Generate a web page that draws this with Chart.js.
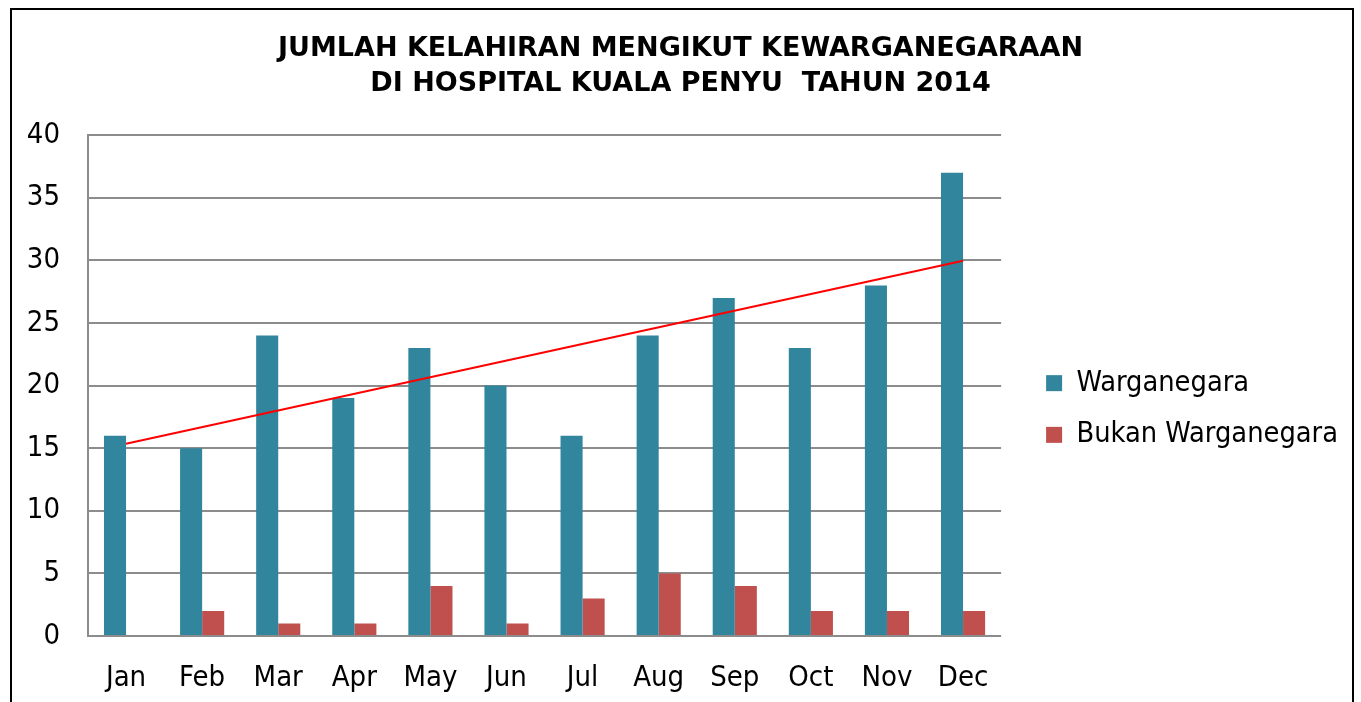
<!DOCTYPE html>
<html>
<head>
<meta charset="utf-8">
<script src="https://cdn.jsdelivr.net/npm/chart.js@4"></script>
<style>
  html, body { margin: 0; padding: 0; background: #fff; }
  #wrap { position: absolute; left: 0; top: 0; width: 1361px; height: 702px; }
</style>
</head>
<body>
<div id="wrap"><canvas id="chart" width="1361" height="702"></canvas></div>
<script>
const months = ["Jan", "Feb", "Mar", "Apr", "May", "Jun", "Jul", "Aug", "Sep", "Oct", "Nov", "Dec"];
const warganegara = [16, 15, 24, 19, 23, 20, 16, 24, 27, 23, 28, 37];
const bukanWarganegara = [0, 2, 1, 1, 4, 1, 3, 5, 4, 2, 2, 2];
// trend line: Jan end and Dec end only
const trend = [15.36, null, null, null, null, null, null, null, null, null, null, 29.97];
const titleLines = ["JUMLAH KELAHIRAN MENGIKUT KEWARGANEGARAAN", "DI HOSPITAL KUALA PENYU  TAHUN 2014"];

const FONT = "'DejaVu Sans Condensed', 'DejaVu Sans', sans-serif";
const LEGEND_GAP = 22;
const LEGEND_EXTRA = 35;

const frame = {
  id: "frame",
  afterInit(chart) {
    // legend: a bit wider (keeps title centred) and pushed away from the plot
    const legend = chart.legend;
    const origFit = legend.fit;
    legend.fit = function (...args) {
      origFit.apply(this, args);
      this.width += LEGEND_EXTRA;
    };
    const origDraw = legend.draw;
    legend.draw = function (...args) {
      chart.ctx.save();
      chart.ctx.translate(LEGEND_GAP, 0);
      origDraw.apply(this, args);
      chart.ctx.restore();
    };
  },
  beforeDraw(chart) {
    const ctx = chart.ctx;
    ctx.save();
    ctx.fillStyle = "#fff";
    ctx.fillRect(0, 0, chart.width, chart.height);
    ctx.strokeStyle = "#000";
    ctx.lineWidth = 2;
    ctx.strokeRect(11, 9, 1342, 720);
    ctx.restore();
  }
};

new Chart(document.getElementById("chart").getContext("2d"), {
  type: "bar",
  data: {
    labels: months,
    datasets: [
      {
        type: "line",
        label: "Trend",
        data: trend,
        spanGaps: true,
        borderColor: "#ff0000",
        borderWidth: 2,
        pointRadius: 0,
        fill: false,
        order: 0,
      },
      {
        label: "Warganegara",
        data: warganegara,
        backgroundColor: "#31859c",
        order: 1,
      },
      {
        label: "Bukan Warganegara",
        data: bukanWarganegara,
        backgroundColor: "#c0504d",
        order: 1,
      },
    ],
  },
  options: {
    responsive: false,
    animation: false,
    layout: { padding: { top: 0, right: 0, bottom: 0, left: 0 } },
    datasets: {
      bar: { categoryPercentage: 0.58, barPercentage: 1.0 },
    },
    plugins: {
      title: {
        display: true,
        text: titleLines,
        color: "#000",
        font: { family: "'DejaVu Sans', sans-serif", size: 27, weight: "bold", lineHeight: 1.3 },
        padding: { top: 31, bottom: 34 },
      },
      legend: {
        position: "right",
        // empty legend title only pushes the two items down
        title: { display: true, text: "", padding: { top: 0, bottom: 0 }, font: { size: 100, lineHeight: 1.16 } },
        labels: {
          filter: (item) => item.text !== "Trend",
          boxWidth: 16,
          boxHeight: 16,
          padding: 23,
          color: "#000",
          font: { family: FONT, size: 28.7 },
        },
      },
      tooltip: { enabled: false },
    },
    scales: {
      x: {
        afterFit: (scale) => { scale.height = 66; },
        grid: { display: false, drawTicks: false },
        border: { display: false },
        ticks: { color: "#000", padding: 25, font: { family: FONT, size: 29 } },
      },
      y: {
        min: 0,
        max: 40,
        afterFit: (scale) => { scale.width = 88; },
        grid: { color: "#8c8c8c", lineWidth: 2, drawTicks: false },
        border: { display: true, color: "#8c8c8c", width: 2 },
        ticks: { stepSize: 5, color: "#000", padding: 28, font: { family: FONT, size: 29 } },
      },
    },
  },
  plugins: [frame],
});
</script>
</body>
</html>
